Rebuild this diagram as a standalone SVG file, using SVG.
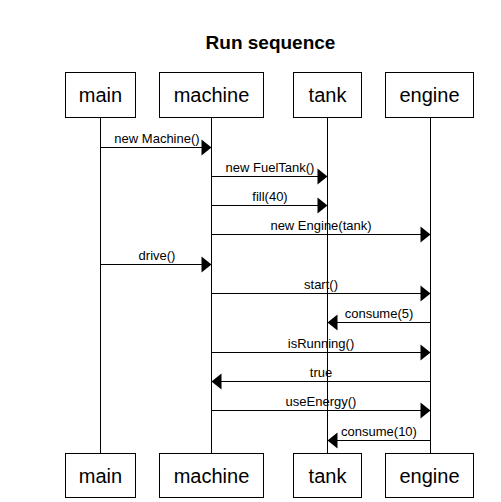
<svg xmlns="http://www.w3.org/2000/svg" width="501" height="502" viewBox="0 0 501 502">
<style>
.box{fill:#fff;stroke:#000;stroke-width:1}
.bt{font-family:"Liberation Sans",Arial,sans-serif;font-size:20px;text-anchor:middle;fill:#000}
.life{stroke:#000;stroke-width:1}
.msg{stroke:#000;stroke-width:1;fill:none}
.ml{font-family:"Liberation Sans",Arial,sans-serif;font-size:13px;text-anchor:middle;fill:#000}
.title{font-family:"Liberation Sans",Arial,sans-serif;font-size:19px;font-weight:bold;text-anchor:middle;fill:#000}
</style>
<rect width="501" height="502" fill="#fff"/>
<text class="title" x="270.5" y="49">Run sequence</text>
<g id="lifelines">
<line class="life" x1="100.5" y1="117" x2="100.5" y2="453"/>
<line class="life" x1="211.5" y1="117" x2="211.5" y2="453"/>
<line class="life" x1="327.5" y1="117" x2="327.5" y2="453"/>
<line class="life" x1="430.5" y1="117" x2="430.5" y2="453"/>
</g>
<g id="main">
<rect class="box" x="65.5" y="72.5" width="70" height="45"/>
<text class="bt" x="100.5" y="102">main</text>
<rect class="box" x="65.5" y="453.5" width="70" height="44"/>
<text class="bt" x="100.5" y="483">main</text>
</g>
<g id="machine">
<rect class="box" x="159.5" y="72.5" width="104" height="45"/>
<text class="bt" x="211.5" y="102">machine</text>
<rect class="box" x="159.5" y="453.5" width="104" height="44"/>
<text class="bt" x="211.5" y="483">machine</text>
</g>
<g id="tank">
<rect class="box" x="293.5" y="72.5" width="68" height="45"/>
<text class="bt" x="327.5" y="102">tank</text>
<rect class="box" x="293.5" y="453.5" width="68" height="44"/>
<text class="bt" x="327.5" y="483">tank</text>
</g>
<g id="engine">
<rect class="box" x="385.5" y="72.5" width="88" height="45"/>
<text class="bt" x="429.5" y="102">engine</text>
<rect class="box" x="385.5" y="453.5" width="88" height="44"/>
<text class="bt" x="429.5" y="483">engine</text>
</g>
<g id="connectors">
<line class="msg" x1="100.5" y1="147.5" x2="202" y2="147.5"/><polygon points="211.5,147.5 201.5,139.5 201.5,155.5"/>
<text class="ml" x="157" y="143">new Machine()</text>
<line class="msg" x1="211.5" y1="176.5" x2="318" y2="176.5"/><polygon points="327.5,176.5 317.5,168.5 317.5,184.5"/>
<text class="ml" x="270" y="172">new FuelTank()</text>
<line class="msg" x1="211.5" y1="205.5" x2="318" y2="205.5"/><polygon points="327.5,205.5 317.5,197.5 317.5,213.5"/>
<text class="ml" x="270" y="201">fill(40)</text>
<line class="msg" x1="211.5" y1="234.5" x2="421" y2="234.5"/><polygon points="430.5,234.5 420.5,226.5 420.5,242.5"/>
<text class="ml" x="321" y="230">new Engine(tank)</text>
<line class="msg" x1="100.5" y1="264.5" x2="202" y2="264.5"/><polygon points="211.5,264.5 201.5,256.5 201.5,272.5"/>
<text class="ml" x="157" y="260">drive()</text>
<line class="msg" x1="211.5" y1="293.5" x2="421" y2="293.5"/><polygon points="430.5,293.5 420.5,285.5 420.5,301.5"/>
<text class="ml" x="321" y="289">start()</text>
<line class="msg" x1="430.5" y1="322.5" x2="337" y2="322.5"/><polygon points="327.5,322.5 337.5,314.5 337.5,330.5"/>
<text class="ml" x="379" y="318">consume(5)</text>
<line class="msg" x1="211.5" y1="352.5" x2="421" y2="352.5"/><polygon points="430.5,352.5 420.5,344.5 420.5,360.5"/>
<text class="ml" x="321" y="348">isRunning()</text>
<line class="msg" x1="430.5" y1="381.5" x2="221" y2="381.5"/><polygon points="211.5,381.5 221.5,373.5 221.5,389.5"/>
<text class="ml" x="321" y="377">true</text>
<line class="msg" x1="211.5" y1="410.5" x2="421" y2="410.5"/><polygon points="430.5,410.5 420.5,402.5 420.5,418.5"/>
<text class="ml" x="321" y="406">useEnergy()</text>
<line class="msg" x1="430.5" y1="440.5" x2="337" y2="440.5"/><polygon points="327.5,440.5 337.5,432.5 337.5,448.5"/>
<text class="ml" x="379" y="436">consume(10)</text>
</g>
</svg>
